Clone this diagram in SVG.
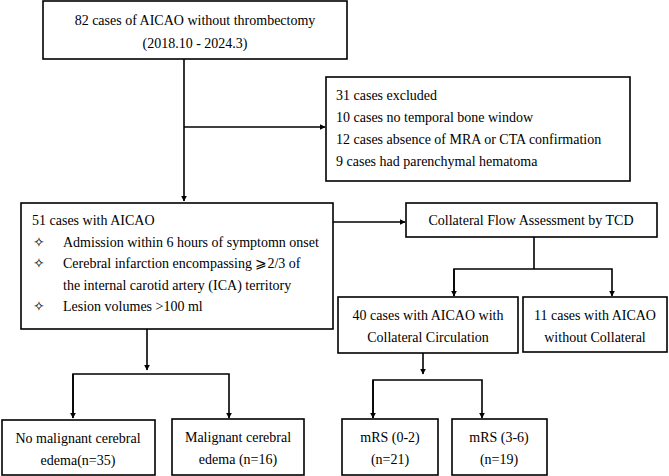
<svg xmlns="http://www.w3.org/2000/svg" width="669" height="476" viewBox="0 0 669 476">
<defs>
<style>
.b{fill:#fff;stroke:#000;stroke-width:1.6}
text{font-family:'Liberation Serif','Times New Roman','DejaVu Serif',serif;font-size:14px;fill:#000}
.c{text-anchor:middle}
.l{fill:none;stroke:#000;stroke-width:1.6}
</style>
<marker id="a" viewBox="0 0 10 10" refX="9" refY="5" markerWidth="6" markerHeight="6" orient="auto" markerUnits="userSpaceOnUse"><path d="M0,0L10,5L0,10z" fill="#000"/></marker>
</defs>
<rect width="669" height="476" fill="#fff"/>
<g id="connectors">
<path class="l" d="M184,59V201" marker-end="url(#a)"/>
<path class="l" d="M184,127H325" marker-end="url(#a)"/>
<path class="l" d="M333,222H405" marker-end="url(#a)"/>
<path class="l" d="M534,237V269"/>
<path class="l" d="M454,296V269H612V296" marker-end="url(#a)"/>
<path class="l" d="M454,269V296" marker-end="url(#a)"/>
<path class="l" d="M147,329V370" marker-end="url(#a)"/>
<path class="l" d="M73,418V374H229V418" marker-end="url(#a)"/>
<path class="l" d="M73,374V418" marker-end="url(#a)"/>
<path class="l" d="M423,353V374" marker-end="url(#a)"/>
<path class="l" d="M373,418V380H482V418" marker-end="url(#a)"/>
<path class="l" d="M373,380V418" marker-end="url(#a)"/>
</g>
<g id="n1"><rect class="b" x="43" y="1" width="304" height="58"/>
<text class="c" x="195" y="25">82 cases of AICAO without thrombectomy</text>
<text class="c" x="195" y="48">(2018.10 - 2024.3)</text></g>
<g id="n2"><rect class="b" x="326" y="77" width="304" height="104"/>
<text x="336" y="100">31 cases excluded</text>
<text x="336" y="122">10 cases no temporal bone window</text>
<text x="336" y="144">12 cases absence of MRA or CTA confirmation</text>
<text x="336" y="166">9 cases had parenchymal hematoma</text></g>
<g id="n3"><rect class="b" x="21" y="203" width="312" height="126"/>
<text x="32" y="225">51 cases with AICAO</text>
<text x="33" y="247">✧</text><text x="63" y="247">Admission within 6 hours of symptomn onset</text>
<text x="33" y="268">✧</text><text x="63" y="268">Cerebral infarction encompassing ⩾2/3 of</text>
<text x="63" y="290">the internal carotid artery (ICA) territory</text>
<text x="33" y="311">✧</text><text x="63" y="311">Lesion volumes &gt;100 ml</text></g>
<g id="n4"><rect class="b" x="406" y="203" width="251" height="34"/>
<text class="c" x="531" y="225">Collateral Flow Assessment by TCD</text></g>
<g id="n5"><rect class="b" x="338" y="297" width="180" height="56"/>
<text class="c" x="428" y="320">40 cases with AICAO with</text>
<text class="c" x="428" y="342">Collateral Circulation</text></g>
<g id="n6"><rect class="b" x="523" y="297" width="144" height="55"/>
<text class="c" x="595" y="320">11 cases with AICAO</text>
<text class="c" x="595" y="342">without Collateral</text></g>
<g id="n7"><rect class="b" x="2" y="420" width="153" height="55"/>
<text class="c" x="78" y="443">No malignant cerebral</text>
<text class="c" x="78" y="465">edema(n=35)</text></g>
<g id="n8"><rect class="b" x="172" y="419" width="132" height="56"/>
<text class="c" x="238" y="442">Malignant cerebral</text>
<text class="c" x="238" y="464">edema (n=16)</text></g>
<g id="n9"><rect class="b" x="342" y="419" width="96" height="56"/>
<text class="c" x="390" y="442">mRS (0-2)</text>
<text class="c" x="390" y="464">(n=21)</text></g>
<g id="n10"><rect class="b" x="452" y="419" width="95" height="56"/>
<text class="c" x="499" y="442">mRS (3-6)</text>
<text class="c" x="499" y="464">(n=19)</text></g>
</svg>
